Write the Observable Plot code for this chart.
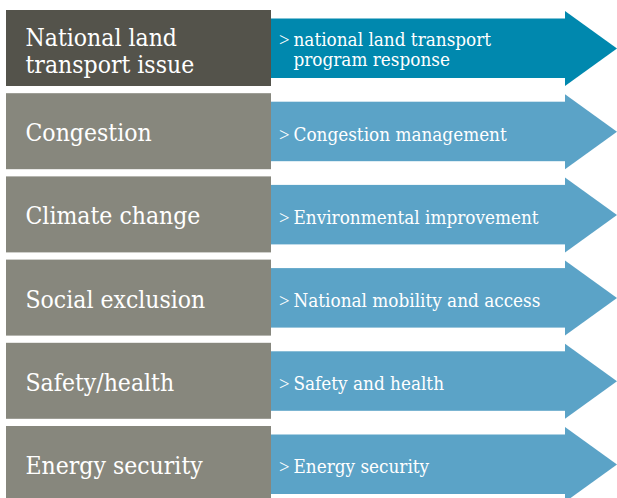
<!DOCTYPE html>
<html>
<head>
<meta charset="utf-8">
<script src="https://cdn.jsdelivr.net/npm/d3@7"></script>
<script src="https://cdn.jsdelivr.net/npm/@observablehq/plot@0.6"></script>
<style>
  html, body { margin: 0; padding: 0; background: #ffffff; }
  svg { display: block; }
</style>
</head>
<body>
<div id="chart"></div>
<script>
// Data
const issues = [
  "National land\ntransport issue",
  "Congestion",
  "Climate change",
  "Social exclusion",
  "Safety/health",
  "Energy security"
];
const responses = [
  "national land transport\nprogram response",
  "Congestion management",
  "Environmental improvement",
  "National mobility and access",
  "Safety and health",
  "Energy security"
];

// Layout (pixels)
const W = 617, H = 498;
const rowTop = i => 10 + i * 83.2;
const boxH = 76;
const boxX1 = 6, boxX2 = 271, headX = 565, tipX = 617;

const rows = issues.map((issue, i) => ({
  i, issue, response: responses[i],
  top: rowTop(i), mid: rowTop(i) + boxH / 2,
  lines: responses[i].split("\n").length,
  issueLines: issue.split("\n").length
}));

const tri = rows.flatMap(r => [
  {row: r.i, x: headX, y1: r.top + 1, y2: r.top + boxH},
  {row: r.i, x: tipX, y1: r.mid + 0.5, y2: r.mid + 0.5}
]);

const boxFill = r => r.i === 0 ? "#54534b" : "#87877d";
const arrowFill = r => r.i === 0 ? "#0088ae" : "#5ba3c7";
const font = "'DejaVu Serif Condensed', 'DejaVu Serif', serif";

const chart = Plot.plot({
  width: W, height: H, margin: 0,
  x: {domain: [0, W], range: [0, W], axis: null},
  y: {domain: [0, H], range: [0, H], axis: null},
  style: {fontFamily: font, background: "#ffffff"},
  marks: [
    Plot.rect(rows, {x1: boxX1, x2: boxX2, y1: d => d.top, y2: d => d.top + boxH, fill: boxFill}),
    Plot.rect(rows, {x1: boxX2, x2: headX + 0.5, y1: d => d.top + 8.5, y2: d => d.top + 68, fill: arrowFill}),
    Plot.areaY(tri, {x: "x", y1: "y1", y2: "y2", z: "row", fill: d => d.row === 0 ? "#0088ae" : "#5ba3c7"}),
    Plot.text(rows, {x: 25, y: d => d.mid + (d.issueLines > 1 ? 2.5 : 1), text: "issue", textAnchor: "start", fill: "white",
      fontSize: 24.5, lineHeight: 1.09, fontFamily: font}),
    Plot.text(rows, {x: 278.5, y: d => d.mid + (d.lines > 1 ? 1 : 2.5), text: d => ">" + "\n ".repeat(d.lines - 1), textAnchor: "start", fill: "white",
      fontSize: 18.75, lineHeight: 1.07, fontFamily: "'Liberation Serif', serif"}),
    Plot.text(rows, {x: 293, y: d => d.mid + (d.lines > 1 ? 1 : 2.5), text: "response", textAnchor: "start", fill: "white",
      fontSize: 18.75, lineHeight: 1.07, fontFamily: font})
  ]
});
document.getElementById("chart").append(chart);
</script>
</body>
</html>
